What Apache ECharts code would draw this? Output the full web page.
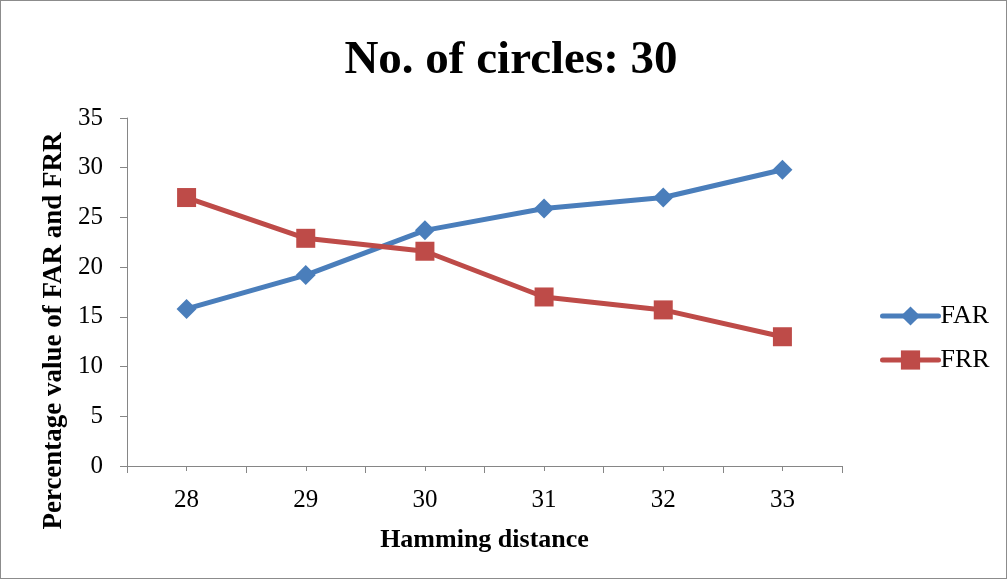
<!DOCTYPE html>
<html>
<head>
<meta charset="utf-8">
<script src="https://cdn.jsdelivr.net/npm/echarts@6/dist/echarts.min.js"></script>
<style>
  html, body { margin: 0; padding: 0; background: #fff; }
  #chart { width: 1007px; height: 579px; box-sizing: border-box; border: 1px solid #8c8c8c; }
</style>
</head>
<body>
<div id="chart"></div>
<script>
// Hamming distance thresholds and the error rates measured at each
const hammingDistances = ['28', '29', '30', '31', '32', '33'];
const farValues = [15.8, 19.2, 23.7, 25.9, 27.0, 29.8];
const frrValues = [27.0, 22.9, 21.6, 17.0, 15.7, 13.0];

const serif = '"Liberation Serif", "Times New Roman", serif';
const axisGray = '#868686';

const chart = echarts.init(document.getElementById('chart'));
chart.setOption({
  animation: false,
  backgroundColor: '#ffffff',
  title: {
    text: 'No. of circles: 30',
    left: 505,
    textAlign: 'center',
    top: 31,
    textStyle: { fontFamily: serif, fontSize: 47, fontWeight: 'bold', color: '#000' }
  },
  grid: { left: 126, right: 164, top: 117, bottom: 112, containLabel: false },
  legend: {
    orient: 'vertical',
    left: 874,
    top: 297,
    itemWidth: 56,
    itemHeight: 24,
    itemGap: 18,
    lineStyle: { width: 5, cap: 'round' },
    textStyle: { fontFamily: serif, fontSize: 26, color: '#000', padding: [0, 0, 0, -3] },
    data: ['FAR', 'FRR']
  },
  xAxis: [
    {
      type: 'category',
      data: hammingDistances,
      boundaryGap: true,
      name: 'Hamming distance',
      nameLocation: 'middle',
      nameGap: 61,
      nameTextStyle: { fontFamily: serif, fontSize: 26, fontWeight: 'bold', color: '#000' },
      axisLine: { lineStyle: { color: axisGray, width: 1 } },
      axisTick: { show: true, alignWithLabel: false, length: 7, lineStyle: { color: axisGray } },
      axisLabel: { fontFamily: serif, fontSize: 25, color: '#000', margin: 22 },
      splitLine: { show: false }
    },
    {
      // second tick row: short marks under each category centre
      type: 'category',
      data: hammingDistances,
      boundaryGap: true,
      position: 'bottom',
      axisLine: { show: false },
      axisTick: { show: true, alignWithLabel: true, length: 5, lineStyle: { color: axisGray } },
      axisLabel: { show: false },
      splitLine: { show: false }
    }
  ],
  yAxis: {
    type: 'value',
    min: 0,
    max: 35,
    interval: 5,
    name: 'Percentage value of FAR and FRR',
    nameLocation: 'middle',
    nameGap: 52,
    nameRotate: 90,
    nameTextStyle: {
      fontFamily: serif, fontSize: 27, fontWeight: 'bold', color: '#000',
      padding: [0, 78, 0, 0]
    },
    axisLine: { show: true, lineStyle: { color: axisGray, width: 1 } },
    axisTick: { show: true, length: 7, lineStyle: { color: axisGray } },
    axisLabel: { fontFamily: serif, fontSize: 25, color: '#000', margin: 24 },
    splitLine: { show: false }
  },
  series: [
    {
      name: 'FAR',
      type: 'line',
      data: farValues,
      symbol: 'diamond',
      symbolSize: 20,
      itemStyle: { color: '#4a7ebb' },
      lineStyle: { color: '#4a7ebb', width: 5 }
    },
    {
      name: 'FRR',
      type: 'line',
      data: frrValues,
      symbol: 'rect',
      symbolSize: 19,
      itemStyle: { color: '#be4b48' },
      lineStyle: { color: '#be4b48', width: 5 }
    }
  ]
});
</script>
</body>
</html>
